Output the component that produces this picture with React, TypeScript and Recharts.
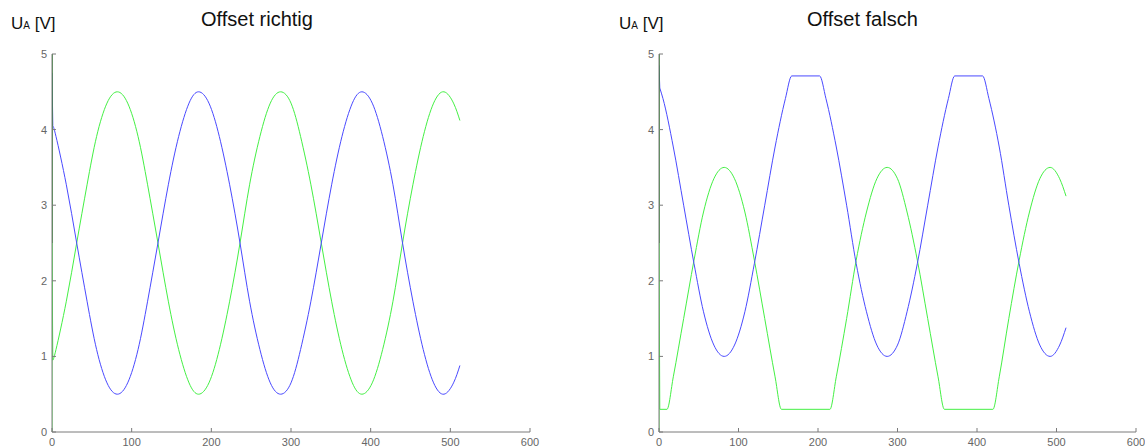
import React from "react";
import { Line, LineChart, XAxis, YAxis } from "recharts";

// x positions (samples)
const leftX = [1, 5, 18, 31, 44, 56, 69, 82, 95, 108, 120, 133, 146, 159, 172, 184, 197, 210, 223, 236, 248, 261, 274, 287, 300, 312, 325, 338, 351, 364, 377, 389, 402, 415, 428, 440, 453, 466, 479, 492, 504, 512];
const leftBlue = [4.05, 3.91, 3.27, 2.5, 1.73, 1.09, 0.65, 0.5, 0.65, 1.09, 1.73, 2.5, 3.27, 3.91, 4.35, 4.5, 4.35, 3.91, 3.27, 2.5, 1.73, 1.09, 0.65, 0.5, 0.65, 1.09, 1.73, 2.5, 3.27, 3.91, 4.35, 4.5, 4.35, 3.91, 3.27, 2.5, 1.73, 1.09, 0.65, 0.5, 0.65, 0.88];
const leftGreen = [0.95, 1.09, 1.73, 2.5, 3.27, 3.91, 4.35, 4.5, 4.35, 3.91, 3.27, 2.5, 1.73, 1.09, 0.65, 0.5, 0.65, 1.09, 1.73, 2.5, 3.27, 3.91, 4.35, 4.5, 4.35, 3.91, 3.27, 2.5, 1.73, 1.09, 0.65, 0.5, 0.65, 1.09, 1.73, 2.5, 3.27, 3.91, 4.35, 4.5, 4.35, 4.12];

const rightBlueX = [1, 5, 18, 31, 44, 56, 69, 82, 95, 108, 120, 133, 146, 159, 167, 202, 210, 223, 236, 248, 261, 274, 287, 300, 312, 325, 338, 351, 364, 372, 407, 415, 428, 440, 453, 466, 479, 492, 504, 512];
const rightBlue = [4.55, 4.41, 3.77, 3.0, 2.23, 1.59, 1.15, 1.0, 1.15, 1.59, 2.23, 3.0, 3.77, 4.41, 4.71, 4.71, 4.41, 3.77, 3.0, 2.23, 1.59, 1.15, 1.0, 1.15, 1.59, 2.23, 3.0, 3.77, 4.41, 4.71, 4.71, 4.41, 3.77, 3.0, 2.23, 1.59, 1.15, 1.0, 1.15, 1.38];
const rightGreenX = [1, 10, 18, 31, 44, 56, 69, 82, 95, 108, 120, 133, 146, 154, 215, 223, 236, 248, 261, 274, 287, 300, 312, 325, 338, 351, 359, 420, 428, 440, 453, 466, 479, 492, 504, 512];
const rightGreen = [0.3, 0.3, 0.73, 1.5, 2.27, 2.91, 3.35, 3.5, 3.35, 2.91, 2.27, 1.5, 0.73, 0.3, 0.3, 0.73, 1.5, 2.27, 2.91, 3.35, 3.5, 3.35, 2.91, 2.27, 1.5, 0.73, 0.3, 0.3, 0.73, 1.5, 2.27, 2.91, 3.35, 3.5, 3.35, 3.12];

// start-up transient at sample 0
const spikeX = [0, 0];
const spikeDark = [2.5, 5];
const leftGreenSpikeX = [0, 0, 1];
const leftGreenSpike = [0, 2.5, 0.95];
const leftBlueSpikeX = [0, 1];
const leftBlueSpike = [4.75, 4.05];
const rightGreenSpikeX = [0, 0, 1];
const rightGreenSpike = [0, 2.5, 0.3];
const rightBlueSpikeX = [0, 1];
const rightBlueSpike = [4.85, 4.55];

const xTicks = [0, 100, 200, 300, 400, 500, 600];
const yTicks = [0, 1, 2, 3, 4, 5];

const BLUE = "#4a4aff";
const GREEN = "#44f044";
const DARK = "#137f13";
const FRAME = "#7a7a7a";

const zip = (xs: number[], ys: number[]) => xs.map((x, i) => ({ x, y: ys[i] }));

type PanelProps = {
  left: number;
  width: number;
  margin: { top: number; right: number; bottom: number; left: number };
  blue: { x: number; y: number }[];
  green: { x: number; y: number }[];
  blueSpike: { x: number; y: number }[];
  greenSpike: { x: number; y: number }[];
  curve: "natural" | "monotone";
};

const tickStyle = { fontSize: 11, fill: "#666", fontFamily: "Liberation Sans, Arial, sans-serif" };

const Panel: React.FC<PanelProps> = ({ left, width, margin, blue, green, blueSpike, greenSpike, curve }) => (
  <div style={{ position: "absolute", left, top: 0 }}>
    <LineChart width={width} height={448} margin={margin}>
      <XAxis
        type="number"
        dataKey="x"
        domain={[0, 600]}
        ticks={xTicks}
        allowDataOverflow
        height={16}
        tickSize={-4}
        tickMargin={10}
        tick={tickStyle}
        stroke={FRAME}
        axisLine={{ stroke: FRAME }}
        tickLine={{ stroke: FRAME }}
      />
      <XAxis xAxisId="top" type="number" orientation="top" domain={[0, 600]} height={0} tick={false} tickLine={false} axisLine={{ stroke: FRAME }} />
      <YAxis
        type="number"
        domain={[0, 5]}
        ticks={yTicks}
        width={52}
        tickSize={-4}
        tickMargin={9}
        tick={tickStyle}
        axisLine={{ stroke: FRAME }}
        tickLine={{ stroke: FRAME }}
      />
      <YAxis yAxisId="right" orientation="right" domain={[0, 5]} width={0} tick={false} tickLine={false} axisLine={{ stroke: FRAME }} />
      <Line data={greenSpike} dataKey="y" type="linear" stroke={GREEN} strokeWidth={1} dot={false} isAnimationActive={false} />
      <Line data={green} dataKey="y" type={curve} stroke={GREEN} strokeWidth={1} dot={false} isAnimationActive={false} />
      <Line data={blueSpike} dataKey="y" type="linear" stroke={BLUE} strokeWidth={1} dot={false} isAnimationActive={false} />
      <Line data={blue} dataKey="y" type={curve} stroke={BLUE} strokeWidth={1} dot={false} isAnimationActive={false} />
      <Line data={zip(spikeX, spikeDark)} dataKey="y" type="linear" stroke={DARK} strokeWidth={1.5} dot={false} isAnimationActive={false} />
    </LineChart>
  </div>
);

const Label: React.FC<{ x: number }> = ({ x }) => (
  <text x={x} y={29} fontSize={17} fill="#111">
    U<tspan fontSize={10}>A</tspan> [V]
  </text>
);

export default function App() {
  return (
    <div style={{ position: "absolute", left: 0, top: 0, width: 1145, height: 448, background: "#fff", fontFamily: "Liberation Sans, Arial, sans-serif" }}>
      <Panel
        left={0}
        width={560}
        margin={{ top: 54, right: 30, bottom: 0, left: 0 }}
        blue={zip(leftX, leftBlue)}
        green={zip(leftX, leftGreen)}
        blueSpike={zip(leftBlueSpikeX, leftBlueSpike)}
        greenSpike={zip(leftGreenSpikeX, leftGreenSpike)}
        curve="natural"
      />
      <Panel
        left={600}
        width={545}
        margin={{ top: 54, right: 9, bottom: 0, left: 7 }}
        blue={zip(rightBlueX, rightBlue)}
        green={zip(rightGreenX, rightGreen)}
        blueSpike={zip(rightBlueSpikeX, rightBlueSpike)}
        greenSpike={zip(rightGreenSpikeX, rightGreenSpike)}
        curve="monotone"
      />
      <svg width={1145} height={60} style={{ position: "absolute", left: 0, top: 0, fontFamily: "Liberation Sans, Arial, sans-serif" }}>
        <Label x={11} />
        <Label x={619} />
        <text x={201} y={26} fontSize={20} fill="#111">Offset richtig</text>
        <text x={807} y={26} fontSize={20} fill="#111">Offset falsch</text>
      </svg>
    </div>
  );
}
